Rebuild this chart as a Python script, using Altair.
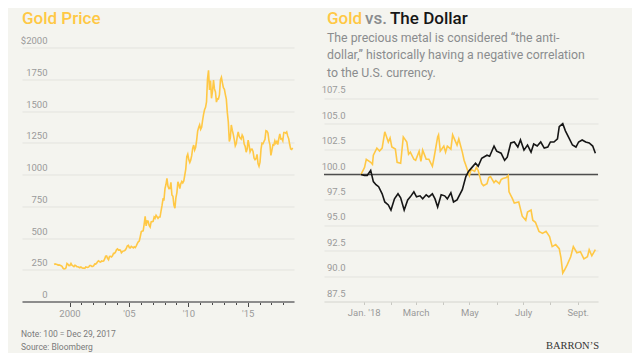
import altair as alt
import pandas as pd

BG = "#F4F4EF"
GOLD = "#FFC845"
INK = "#161616"
GRID = "#E3E3DE"
LAB = "#9A9A9A"

# ---------------- data: left panel (monthly gold price, $/oz) ----------------
gold_month_start = "1998-09-01"
gold_monthly = [
    292, 296, 294, 291,
    287, 288, 286, 282, 277, 262, 256, 257, 265, 300, 293, 283,
    284, 300, 286, 280, 275, 286, 282, 274, 273, 270, 266, 272,
    266, 262, 263, 261, 272, 270, 268, 273, 283, 283, 276, 276,
    282, 296, 294, 302, 314, 321, 313, 310, 319, 317, 319, 333,
    357, 359, 340, 329, 355, 356, 351, 360, 379, 379, 389, 407,
    414, 405, 406, 404, 384, 392, 398, 400, 406, 420, 439, 442,
    424, 423, 434, 429, 422, 430, 424, 438, 456, 470, 476, 510,
    549, 555, 557, 610, 670, 596, 634, 632, 598, 586, 627, 629,
    631, 665, 655, 679, 667, 655, 665, 665, 712, 754, 806, 803,
    889, 923, 970, 909, 888, 889, 939, 839, 829, 760, 735, 816,
    858, 943, 924, 890, 928, 946, 934, 949, 996, 1043, 1140, 1160,
    1117, 1095, 1113, 1148, 1205, 1232, 1193, 1215, 1271, 1342, 1370, 1391,
    1356, 1372, 1424, 1474, 1510, 1529, 1572, 1756, 1820, 1666, 1739, 1600,
    1656, 1743, 1674, 1650, 1570, 1596, 1594, 1626, 1744, 1765, 1722, 1684,
    1671, 1627, 1593, 1487, 1414, 1260, 1286, 1390, 1349, 1316, 1275, 1225,
    1244, 1300, 1336, 1299, 1288, 1279, 1311, 1296, 1239, 1222, 1176, 1201,
    1270, 1227, 1179, 1198, 1199, 1181, 1131, 1117, 1125, 1159, 1086, 1065,
    1097, 1200, 1246, 1242, 1260, 1276, 1345, 1341, 1326, 1267, 1236, 1150,
    1192, 1234, 1231, 1266, 1246, 1260, 1236, 1283, 1320, 1280, 1282, 1265,
    1331, 1331, 1325, 1335, 1304, 1281, 1238, 1202, 1198, 1210,
]
left_ticks_years = list(range(2000, 2019))
left_y_values = [0, 250, 500, 750, 1000, 1250, 1500, 1750, 2000]

# ---------------- data: right panel (index, 100 = Dec 29, 2017) ----------------
gold18_dates = [
    "2017-12-29", "2018-01-02", "2018-01-04", "2018-01-09", "2018-01-11", "2018-01-12",
    "2018-01-16", "2018-01-19", "2018-01-22", "2018-01-25", "2018-01-29", "2018-01-31",
    "2018-02-02", "2018-02-06", "2018-02-08", "2018-02-12", "2018-02-15", "2018-02-19",
    "2018-02-21", "2018-02-23", "2018-02-27", "2018-03-01", "2018-03-05", "2018-03-07",
    "2018-03-09", "2018-03-13", "2018-03-16", "2018-03-20", "2018-03-22", "2018-03-26",
    "2018-03-27", "2018-03-29", "2018-04-02", "2018-04-04", "2018-04-06", "2018-04-10",
    "2018-04-12", "2018-04-17", "2018-04-19", "2018-04-23", "2018-04-25", "2018-04-27",
    "2018-05-01", "2018-05-03", "2018-05-07", "2018-05-09", "2018-05-11", "2018-05-15",
    "2018-05-17", "2018-05-21", "2018-05-23", "2018-05-25", "2018-05-29", "2018-05-31",
    "2018-06-04", "2018-06-06", "2018-06-08", "2018-06-12", "2018-06-14", "2018-06-15",
    "2018-06-19", "2018-06-21", "2018-06-26", "2018-06-30", "2018-07-04", "2018-07-06",
    "2018-07-10", "2018-07-12", "2018-07-15", "2018-07-19", "2018-07-23", "2018-07-27",
    "2018-07-31", "2018-08-03", "2018-08-07", "2018-08-11", "2018-08-13", "2018-08-15",
    "2018-08-17", "2018-08-20", "2018-08-24", "2018-08-27", "2018-08-31", "2018-09-04",
    "2018-09-08", "2018-09-12", "2018-09-14", "2018-09-17", "2018-09-21",
]
gold18_values = [
    100.0, 100.7, 101.5, 101.2, 101.0, 101.9,
    102.6, 102.3, 102.6, 104.2, 103.2, 103.6,
    102.7, 102.5, 101.2, 101.1, 103.7, 103.2,
    102.0, 102.2, 101.5, 101.4, 102.3, 101.3,
    102.4, 101.5, 101.5, 100.8, 101.7, 103.7,
    103.9, 102.3, 102.8, 102.2, 102.8, 102.5,
    103.9, 102.9, 103.5, 102.2, 101.4, 100.9,
    99.9, 100.5, 100.3, 100.7, 100.4, 99.1,
    98.9, 99.1, 99.7, 99.8, 99.2, 99.4,
    99.1, 99.5, 99.6, 99.7, 99.9, 98.3,
    97.6, 97.2, 97.3, 95.9, 95.5, 96.3,
    96.5, 95.5, 95.3, 94.4, 94.2, 94.4,
    93.9, 92.9, 93.1, 92.7, 91.8, 90.3,
    90.6, 91.1, 91.9, 92.9, 92.3, 92.4,
    91.7, 91.9, 92.6, 92.0, 92.6,
]
usd18_dates = [
    "2017-12-29", "2018-01-02", "2018-01-05", "2018-01-09", "2018-01-12", "2018-01-15",
    "2018-01-18", "2018-01-22", "2018-01-25", "2018-01-29", "2018-02-01", "2018-02-05",
    "2018-02-09", "2018-02-12", "2018-02-16", "2018-02-20", "2018-02-23", "2018-02-27",
    "2018-03-02", "2018-03-06", "2018-03-09", "2018-03-13", "2018-03-16", "2018-03-20",
    "2018-03-23", "2018-03-26", "2018-03-30", "2018-04-03", "2018-04-06", "2018-04-10",
    "2018-04-13", "2018-04-17", "2018-04-23", "2018-04-27", "2018-04-30", "2018-05-04",
    "2018-05-08", "2018-05-11", "2018-05-15", "2018-05-21", "2018-05-24", "2018-05-29",
    "2018-06-01", "2018-06-06", "2018-06-10", "2018-06-13", "2018-06-17", "2018-06-21",
    "2018-06-25", "2018-06-28", "2018-07-02", "2018-07-06", "2018-07-10", "2018-07-13",
    "2018-07-17", "2018-07-21", "2018-07-25", "2018-07-29", "2018-08-01", "2018-08-05",
    "2018-08-09", "2018-08-11", "2018-08-15", "2018-08-18", "2018-08-22", "2018-08-26",
    "2018-08-30", "2018-09-02", "2018-09-06", "2018-09-10", "2018-09-14", "2018-09-18",
    "2018-09-21",
]
usd18_values = [
    100.0, 99.9, 99.9, 100.4, 99.3, 99.0,
    98.8, 98.1, 97.3, 97.0, 96.5, 97.6,
    98.1, 97.7, 96.5, 97.5, 97.8, 98.3,
    97.8, 97.9, 97.6, 98.0, 97.8, 98.1,
    97.6, 96.8, 98.0, 97.9, 97.6, 98.2,
    97.3, 97.5, 98.5, 99.8, 100.3, 100.7,
    101.1, 100.8, 101.6, 101.9, 101.8, 102.8,
    102.3, 102.1, 101.4, 101.7, 103.1, 103.2,
    102.7, 103.4, 102.4, 102.9, 102.2, 103.0,
    102.8, 103.2, 102.6, 102.7, 103.2, 103.2,
    103.5, 104.7, 105.0, 104.3, 103.6, 102.9,
    102.7, 103.2, 103.4, 103.2, 103.1, 102.8,
    102.1,
]
right_y_values = [87.5, 90.0, 92.5, 95.0, 97.5, 100.0, 102.5, 105.0, 107.5]
right_month_ticks = [1, 2, 3, 4, 5, 6, 7, 8, 9]
baseline_value = [100.0]

# ---------------- frames ----------------
left_df = pd.DataFrame({
    "date": pd.date_range(gold_month_start, periods=len(gold_monthly), freq="MS") + pd.Timedelta(days=14),
    "price": gold_monthly,
})
gold18_df = pd.DataFrame({"date": gold18_dates, "value": gold18_values})
usd18_df = pd.DataFrame({"date": usd18_dates, "value": usd18_values})
base_df = pd.DataFrame({"value": baseline_value})

W1, W2, H = 272, 274, 254
FONT = "Roboto"


def label(text, x, y, size, color, weight="normal", align="left", font=FONT):
    return alt.Chart(pd.DataFrame({"t": [text]})).mark_text(
        align=align, baseline="middle", fontSize=size, color=color,
        fontWeight=weight, font=font,
    ).encode(text="t:N", x=alt.value(x), y=alt.value(y))


# ---------------- left panel ----------------
lx = alt.X(
    "date:T",
    scale=alt.Scale(domain=[alt.DateTime(year=1996, month=1, date=1),
                            alt.DateTime(year=2018, month=11, date=25)]),
    axis=alt.Axis(
        values=[alt.DateTime(year=y, month=1, date=1) for y in left_ticks_years],
        labelExpr="year(datum.value) % 5 == 0 ? (year(datum.value) == 2000 ? '2000' : \"'\" + slice(toString(year(datum.value)), 2)) : ''",
        title=None, grid=False, domainColor="#8C8C8C", domainWidth=2,
        tickColor="#4A4A4A",
        tickSize={"condition": {"test": "year(datum.value) % 5 == 0", "value": 5}, "value": 3},
        tickWidth=1, labelColor=LAB, labelFontSize=9.5, labelPadding=2, labelFont=FONT,
    ),
)
ly = alt.Y(
    "price:Q",
    scale=alt.Scale(domain=[0, 2000], nice=False),
    axis=alt.Axis(
        values=left_y_values,
        labelExpr="datum.value == 2000 ? '$2000' : datum.value",
        title=None, grid=True, gridColor=GRID, domain=False, ticks=False, tickSize=0,
        labelAlign="right", labelBaseline="bottom", labelPadding=-25, labelOffset=-2,
        labelColor=LAB, labelFontSize=9.5, labelFont=FONT,
    ),
)
left_line = alt.Chart(left_df).mark_line(color=GOLD, strokeWidth=1.6).encode(x=lx, y=ly)

left = alt.layer(
    left_line,
    label("Gold Price", 0, -29, 17, GOLD, weight=500),
    label("Note: 100 = Dec 29, 2017", -1, 286, 8.5, "#7A7A7A"),
    label("Source: Bloomberg", -1, 299, 8.5, "#7A7A7A"),
).properties(width=W1, height=H)

# ---------------- right panel ----------------
rx = alt.X(
    "date:T",
    scale=alt.Scale(domain=[alt.DateTime(year=2017, month=11, date=17),
                            alt.DateTime(year=2018, month=9, date=24)]),
    axis=alt.Axis(
        values=[alt.DateTime(year=2018, month=m, date=1) for m in right_month_ticks],
        labelExpr="month(datum.value) == 0 ? \"Jan. '18\" : month(datum.value) == 2 ? 'March' : month(datum.value) == 4 ? 'May' : month(datum.value) == 6 ? 'July' : month(datum.value) == 8 ? 'Sept.' : ''",
        title=None, grid=False, domainColor="#DCDCD6", domainWidth=1,
        tickColor="#C8C8C2", tickSize=3, labelColor=LAB, labelFontSize=9.5,
        labelPadding=3, labelFont=FONT,
    ),
)
ry = alt.Y(
    "value:Q",
    scale=alt.Scale(domain=[87.5, 112.5], nice=False, zero=False),
    axis=alt.Axis(
        values=right_y_values, format=".1f",
        title=None, grid=True, gridColor=GRID, domain=False, ticks=False, tickSize=0,
        labelAlign="right", labelBaseline="bottom", labelPadding=-21, labelOffset=-3.5,
        labelColor=LAB, labelFontSize=9.5, labelFont=FONT,
    ),
)
base_rule = alt.Chart(base_df).mark_rule(color="#4D4D4D", strokeWidth=1.5).encode(y=ry)
gold_line = alt.Chart(gold18_df).mark_line(color=GOLD, strokeWidth=1.6).encode(x=rx, y=ry)
usd_line = alt.Chart(usd18_df).mark_line(color=INK, strokeWidth=1.6).encode(x=rx, y=ry)

SUB = "#8A8C8E"
right = alt.layer(
    base_rule, gold_line, usd_line,
    label("Gold", 3, -29, 17, GOLD, weight=500),
    label("vs.", 41, -29, 17, "#8A8C8E", weight=500),
    label("The Dollar", 66, -29, 17, INK, weight=500),
    label("The precious metal is considered \u201cthe anti-", 3, -10, 12.3, SUB),
    label("dollar,\u201d historically having a negative correlation", 3, 7.5, 12.3, SUB),
    label("to the U.S. currency.", 3, 25, 12.3, SUB),
    label("BARRON\u2019S", 275, 298.5, 10.5, "#333333", align="right", font="Liberation Serif"),
).properties(width=W2, height=H)

chart = alt.hconcat(left, right, spacing=30, bounds="flush").properties(
    padding={"left": 12, "top": 1.5, "right": 33, "bottom": 1},
).configure(
    background=BG, font=FONT,
).configure_view(stroke=None)

chart.save("out.html", embed_options={"renderer": "svg", "actions": False})
